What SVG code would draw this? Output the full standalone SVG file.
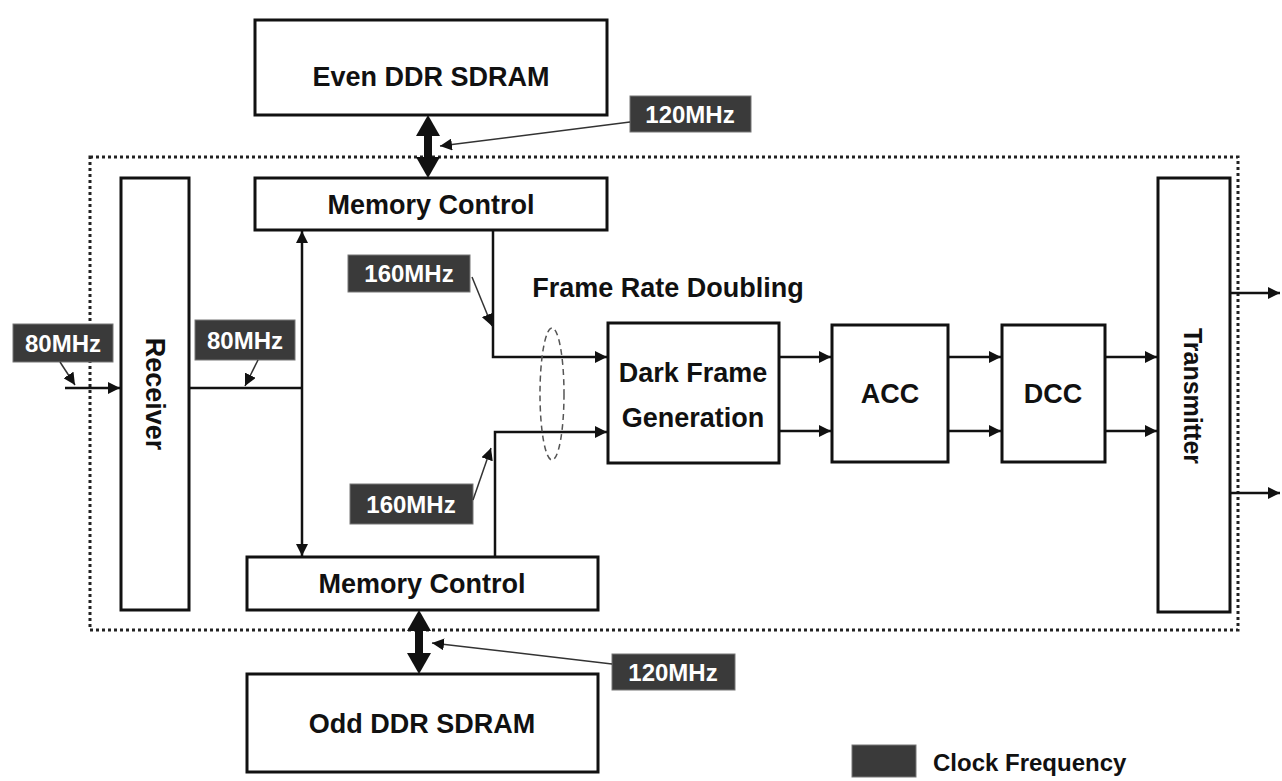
<svg xmlns="http://www.w3.org/2000/svg" width="1282" height="781" viewBox="0 0 1282 781">
<style>
  .box{fill:#fff;stroke:#111;stroke-width:3}
  .t{font-family:"Liberation Sans",Arial,sans-serif;font-weight:bold;font-size:27px;fill:#111;text-anchor:middle}
  .lbl{fill:#3a3a3a;stroke:#777;stroke-width:1}
  .lt{font-family:"Liberation Sans",Arial,sans-serif;font-weight:bold;font-size:24px;fill:#fff;text-anchor:middle}
  .ln{fill:none;stroke:#111;stroke-width:2.5}
  .ptr{fill:none;stroke:#333;stroke-width:1.5}
  .frame{fill:none;stroke:#222;stroke-width:3;stroke-dasharray:3 3}
</style>
<defs>
  <marker id="ah" viewBox="0 0 10 10" refX="10" refY="5" markerWidth="12" markerHeight="12" markerUnits="userSpaceOnUse" orient="auto">
    <path d="M0,0 L10,5 L0,10 z" fill="#111"/>
  </marker>
  <marker id="ahs" viewBox="0 0 10 10" refX="10" refY="5" markerWidth="12" markerHeight="12" markerUnits="userSpaceOnUse" orient="auto-start-reverse">
    <path d="M0,0 L10,5 L0,10 z" fill="#111"/>
  </marker>
</defs>
<rect width="1282" height="781" fill="#fff"/>
<rect class="frame" x="90" y="157" width="1148" height="473"/>

<g id="even-ddr"><rect class="box" x="255" y="20" width="352" height="95"/><text class="t" x="431" y="86">Even DDR SDRAM</text></g>
<g id="mem-ctrl-top"><rect class="box" x="255" y="178" width="352" height="52"/><text class="t" x="431" y="214">Memory Control</text></g>
<g id="receiver"><rect class="box" x="121" y="178" width="68" height="432"/><text class="t" transform="translate(155,394) rotate(90)" y="9.5">Receiver</text></g>
<g id="mem-ctrl-bot"><rect class="box" x="247" y="557" width="351" height="53"/><text class="t" x="422" y="593">Memory Control</text></g>
<g id="odd-ddr"><rect class="box" x="247" y="674" width="351" height="98"/><text class="t" x="422" y="733">Odd DDR SDRAM</text></g>
<g id="dark-frame"><rect class="box" x="608" y="323" width="171" height="140"/><text class="t" x="693" y="382">Dark Frame</text><text class="t" x="693" y="427">Generation</text></g>
<g id="acc"><rect class="box" x="832" y="325" width="116" height="137"/><text class="t" x="890" y="403">ACC</text></g>
<g id="dcc"><rect class="box" x="1002" y="325" width="103" height="137"/><text class="t" x="1053" y="403">DCC</text></g>
<g id="transmitter"><rect class="box" x="1158" y="178" width="72" height="434"/><text class="t" style="font-size:25px" transform="translate(1193,396) rotate(90)" y="9">Transmitter</text></g>

<text class="t" x="668" y="297">Frame Rate Doubling</text>

<g id="lbl-120-top"><rect class="lbl" x="630" y="96" width="121" height="36"/><text class="lt" x="690" y="123">120MHz</text></g>
<g id="lbl-120-bot"><rect class="lbl" x="612" y="654" width="123" height="36"/><text class="lt" x="673" y="681">120MHz</text></g>
<g id="lbl-80-in"><rect class="lbl" x="13" y="324" width="100" height="38"/><text class="lt" x="63" y="352">80MHz</text></g>
<g id="lbl-80-rx"><rect class="lbl" x="195" y="320" width="100" height="40"/><text class="lt" x="245" y="349">80MHz</text></g>
<g id="lbl-160-top"><rect class="lbl" x="348" y="255" width="122" height="37"/><text class="lt" x="409" y="282">160MHz</text></g>
<g id="lbl-160-bot"><rect class="lbl" x="350" y="484" width="123" height="40"/><text class="lt" x="411" y="513">160MHz</text></g>
<g id="legend"><rect class="lbl" x="852" y="745" width="64" height="32"/><text class="t" x="933" y="771" style="text-anchor:start;font-size:24px">Clock Frequency</text></g>

<g id="connectors">
  <rect x="424" y="132" width="8" height="28" fill="#111"/>
  <polygon points="428,115 416,136 440,136" fill="#111"/>
  <polygon points="428,178 416,157 440,157" fill="#111"/>
  <rect x="415" y="627" width="8" height="30" fill="#111"/>
  <polygon points="419,610 407,631 431,631" fill="#111"/>
  <polygon points="419,674 407,653 431,653" fill="#111"/>
  <line class="ptr" x1="630" y1="122" x2="440" y2="146" marker-end="url(#ah)"/>
  <line class="ptr" x1="612" y1="664" x2="432" y2="643" marker-end="url(#ah)"/>
  <line class="ptr" x1="60" y1="362" x2="75" y2="385" marker-end="url(#ah)"/>
  <line class="ptr" x1="258" y1="360" x2="245" y2="386" marker-end="url(#ah)"/>
  <line class="ptr" x1="472" y1="277" x2="492" y2="326" marker-end="url(#ah)"/>
  <line class="ptr" x1="473" y1="500" x2="491" y2="448" marker-end="url(#ah)"/>
  <line class="ln" x1="65" y1="388" x2="120" y2="388" marker-end="url(#ah)"/>
  <line class="ln" x1="189" y1="388" x2="302" y2="388"/>
  <line class="ln" x1="302" y1="231" x2="302" y2="556" marker-start="url(#ahs)" marker-end="url(#ah)"/>
  <polyline class="ln" points="493,230 493,357 607,357" marker-end="url(#ah)"/>
  <polyline class="ln" points="495,557 495,432 607,432" marker-end="url(#ah)"/>
  <ellipse cx="552" cy="394" rx="12" ry="66" fill="none" stroke="#555" stroke-width="1.5" stroke-dasharray="6 4"/>
  <line class="ln" x1="779" y1="357" x2="831" y2="357" marker-end="url(#ah)"/>
  <line class="ln" x1="779" y1="431" x2="831" y2="431" marker-end="url(#ah)"/>
  <line class="ln" x1="948" y1="357" x2="1001" y2="357" marker-end="url(#ah)"/>
  <line class="ln" x1="948" y1="431" x2="1001" y2="431" marker-end="url(#ah)"/>
  <line class="ln" x1="1105" y1="357" x2="1157" y2="357" marker-end="url(#ah)"/>
  <line class="ln" x1="1105" y1="431" x2="1157" y2="431" marker-end="url(#ah)"/>
  <line class="ln" x1="1230" y1="293" x2="1280" y2="293" marker-end="url(#ah)"/>
  <line class="ln" x1="1230" y1="493" x2="1280" y2="493" marker-end="url(#ah)"/>
</g>
</svg>
